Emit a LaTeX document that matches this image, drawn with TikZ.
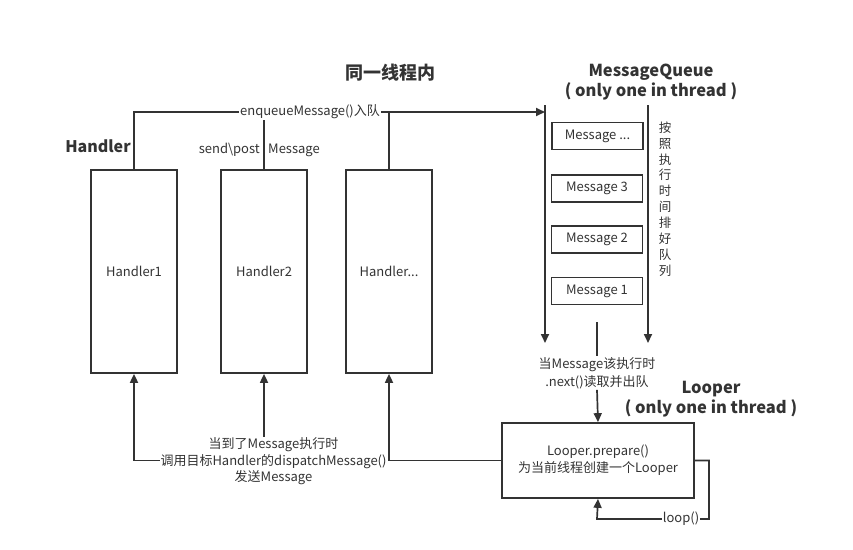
\documentclass[tikz,border=0pt]{standalone}
\usepackage{fontspec}
\setmainfont{Noto Sans CJK SC}
\usetikzlibrary{arrows.meta}
\definecolor{ink}{HTML}{333333}
\begin{document}
\begin{tikzpicture}[x=1pt,y=-1pt,
  every node/.style={text=ink, font=\fontsize{13}{15}\selectfont},
  line/.style={draw=ink, line width=1.7pt},
  arr/.style={line, -{Triangle[length=9pt,width=8pt]}},
  hbox/.style={draw=ink, line width=1.7pt, minimum width=86pt, minimum height=203pt, inner sep=0pt},
  mbox/.style={draw=ink, line width=1.7pt, minimum width=91pt, minimum height=27pt, inner sep=0pt},
  lbl/.style={fill=white, inner sep=1pt, align=center},
  title/.style={font=\fontsize{16.5}{20}\selectfont\bfseries, align=center}]
\useasboundingbox (0,0) rectangle (853,549);

% titles
\node[title, font=\fontsize{18}{20}\selectfont\bfseries] (t1) at (390,73) {同一线程内};
\node[title, font=\fontsize{16}{18}\selectfont\bfseries] (t2) at (98,146) {Handler};
\node[title] (t3) at (651,82) {MessageQueue\\( only one in thread )};
\node[title] (t4) at (711,399) {Looper\\( only one in thread )};

% handlers
\node[hbox] (h1) at (134,271.5) {Handler1};
\node[hbox] (h2) at (264,271.5) {Handler2};
\node[hbox] (h3) at (389,271.5) {Handler...};

% queue
\coordinate (qat) at (545,105);
\coordinate (qab) at (545,343);
\coordinate (qbt) at (648,105);
\coordinate (qbb) at (648,343);
\coordinate (qin) at (545,112);
\draw[arr] (qat) -- (qab);
\draw[arr] (qbt) -- (qbb);
\node[mbox] (m4) at (597.5,136) {Message ...};
\node[mbox] (m3) at (597,188.5) {Message 3};
\node[mbox] (m2) at (597,239.5) {Message 2};
\node[mbox] (m1) at (597,291) {Message 1};
\node[align=center, font=\fontsize{12.5}{15.9}\selectfont, inner sep=0pt] (vt) at (665,199) {按\\照\\执\\行\\时\\间\\排\\好\\队\\列};

% looper
\node[draw=ink, line width=1.7pt, minimum width=192pt, minimum height=75pt, align=center,
  font=\fontsize{13}{17}\selectfont] (lp) at (598,460.5) {Looper.prepare()\\为当前线程创建一个Looper};

% enqueue connectors
\draw[arr] (h1.north) |- (qin);
\draw[line] (h2.north) -- (264,112);
\draw[line] (h3.north) -- (389,112);
\node[lbl] (enq) at (310,112) {enqueueMessage()入队};
\node[anchor=east, inner sep=1pt] (sp1) at (261,150) {send\textbackslash post};
\node[anchor=west, inner sep=1pt] (sp2) at (267,150) {Message};

% next
\coordinate (ntop) at (597,322);
\node[align=center, inner sep=1pt, font=\fontsize{13}{18}\selectfont] (nxt) at (597,373) {当Message该执行时\\.next()读取并出队};
\draw[line] (ntop) -- (nxt.north);
\draw[arr] (nxt.south) -- (lp.north);

% loop
\coordinate (l1) at (709,460.5);
\coordinate (l2) at (709,519);
\coordinate (l3) at (597,519);
\draw[arr] (lp.east) -- (l1) -- (l2) -- (l3) -- (lp.south);
\node[lbl] (lpl) at (681,519) {loop()};

% dispatch
\coordinate (d3) at (389,460.5);
\draw[arr] (lp.west) -| (h1.south);
\draw[arr] (d3) -- (h3.south);
\node[lbl, font=\fontsize{13}{16.5}\selectfont] (disp) at (273.5,461.5) {当到了Message执行时\\调用目标Handler的dispatchMessage()\\发送Message};
\draw[arr] (disp.north -| h2.south) -- (h2.south);
\end{tikzpicture}
\end{document}
